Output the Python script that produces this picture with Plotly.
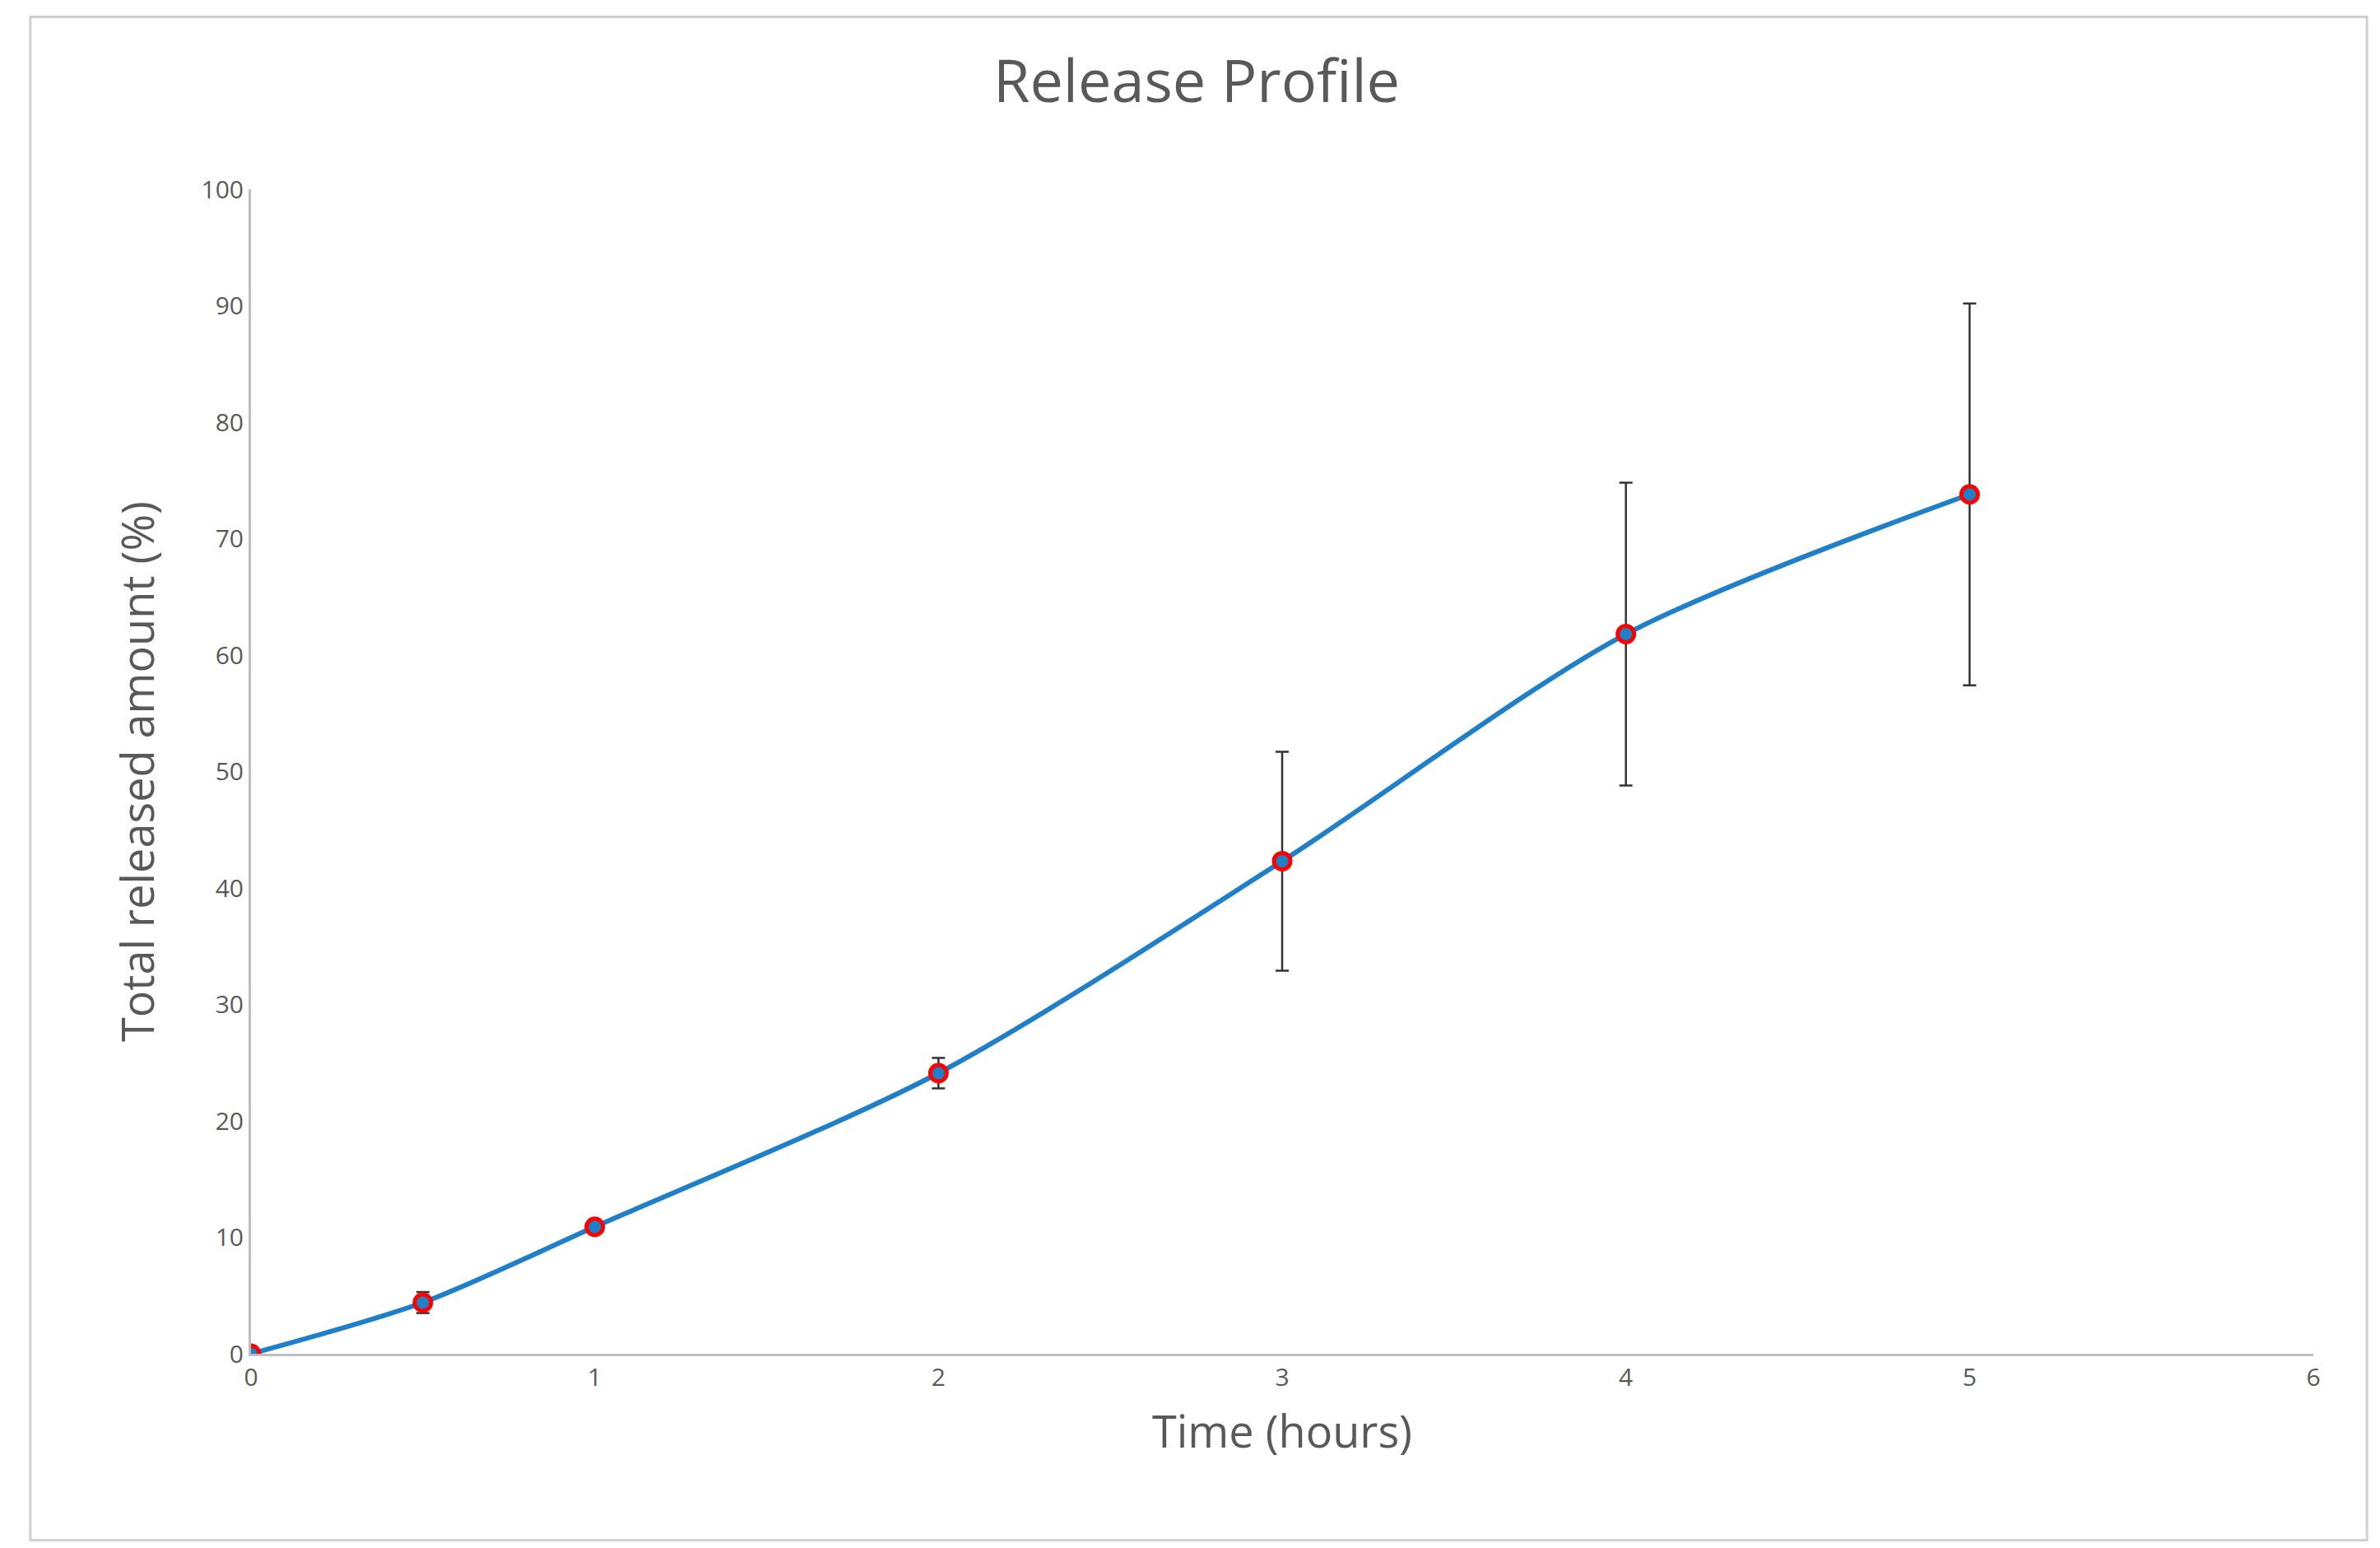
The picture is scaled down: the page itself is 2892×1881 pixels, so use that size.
import plotly.graph_objects as go

time_h = [0, 0.5, 1, 2, 3, 4, 5]
released = [0, 4.4, 10.9, 24.1, 42.3, 61.8, 73.8]
err = [0, 0.9, 0.5, 1.3, 9.4, 13.0, 16.4]

fig = go.Figure()
fig.add_trace(go.Scatter(
    x=time_h, y=released, mode='lines+markers',
    line=dict(color='#1f7fc8', width=6, shape='spline', smoothing=0.8),
    marker=dict(size=20, color='#1f7fc8', line=dict(color='#ff0000', width=5)),
    error_y=dict(type='data', array=err, color='#333333', thickness=2.5, width=8),
    showlegend=False,
))

fig.add_shape(type='rect', xref='paper', yref='paper',
              x0=-0.107, x1=1.026, y0=-0.16, y1=1.148,
              line=dict(color='#d0d0d0', width=3))

fig.update_layout(
    width=2892, height=1881,
    margin=dict(l=297, r=89, t=222, b=244),
    paper_bgcolor='white', plot_bgcolor='white',
    font=dict(family='Open Sans', color='#595959'),
    title=dict(text='Release Profile', x=0.5, xanchor='center', y=0.965,
               font=dict(size=72, color='#595959')),
    xaxis=dict(title=dict(text='Time (hours)', font=dict(size=54), standoff=30),
               range=[0, 6], dtick=1, showgrid=False, zeroline=False,
               showline=True, linecolor='#bfbfbf', linewidth=3,
               tickfont=dict(size=30), ticks=''),
    yaxis=dict(title=dict(text='Total released amount (%)', font=dict(size=54), standoff=40),
               range=[0, 100], dtick=10, showgrid=False, zeroline=False,
               showline=True, linecolor='#bfbfbf', linewidth=3,
               tickfont=dict(size=30), ticks=''),
)

fig.write_html("out.html")
